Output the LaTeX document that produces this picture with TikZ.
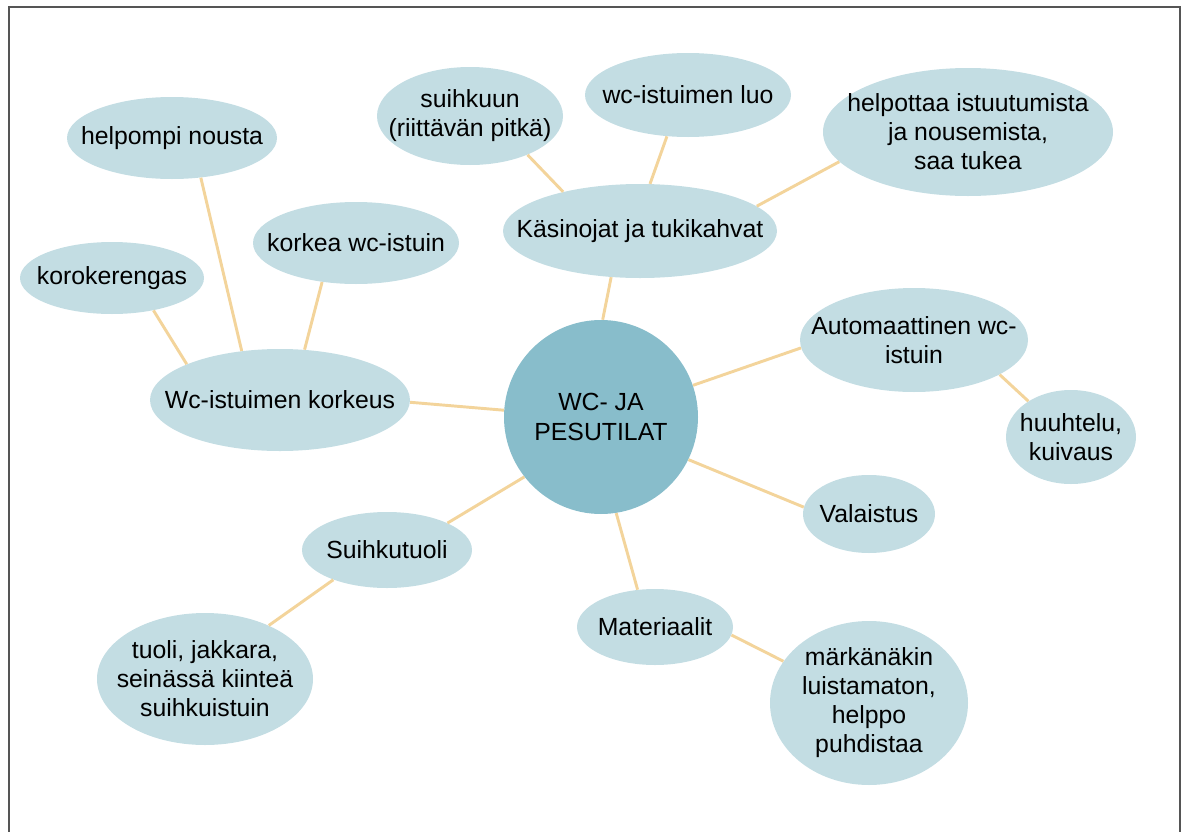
\documentclass[tikz,border=0pt]{standalone}
\usepackage{fontspec}
\setmainfont{Liberation Sans}
\usetikzlibrary{shapes.geometric}
\definecolor{bubblefill}{HTML}{C3DDE3}
\definecolor{hubfill}{HTML}{88BDCB}
\definecolor{linkline}{HTML}{F3D49B}
\definecolor{framegray}{HTML}{555555}
\begin{document}
\begin{tikzpicture}[x = 0.75pt, y = -0.75pt,
		bubble/.style = {ellipse, fill = bubblefill, inner sep = -60pt, align = center,
			font = \fontsize{18.6}{21.75}\selectfont},
		radii/.style 2 args = {minimum width = #1 * 1.5pt, minimum height = #2 * 1.5pt},
		hub/.style = {circle, fill = hubfill, inner sep = 0pt, minimum size = 145.5pt, align = center,
			font = \fontsize{18.6}{22.5}\selectfont},
		link/.style = {draw = linkline, line width = 2.2pt}]
							\useasboundingbox (0, 0) rectangle (1186, 832);
							%Frame
							\draw[framegray, line width = 1.1pt] (9, 840) -- (9, 7) -- (1180, 7) -- (1180, 840);
							%Centre
							\node[hub] (wc) at (601, 417) {WC- JA\\PESUTILAT};
							%Seat height
							\node[bubble, radii = {130}{51}] (korkeus) at (280, 400) {Wc-istuimen korkeus};
								\node[bubble, radii = {105}{41}] (nousta) at (172, 138) {helpompi nousta};
								\node[bubble, radii = {92}{36}] (koroke) at (112, 278) {korokerengas};
								\node[bubble, radii = {103}{41}] (korkea) at (356, 243) {korkea wc-istuin};
							%Grab bars
							\node[bubble, radii = {137}{47}] (kahvat) at (640, 231) {Käsinojat ja tukikahvat};
								\node[bubble, radii = {93}{49}] (suihkuun) at (470, 116) {suihkuun\\(riittävän pitkä)};
								\node[bubble, radii = {103}{42}] (luo) at (688, 95) {wc-istuimen luo};
								\node[bubble, radii = {145}{64}] (tukea) at (968, 132) {helpottaa istuutumista\\ja nousemista,\\saa tukea};
							%Automatic seat
							\node[bubble, radii = {114}{52}] (auto) at (914, 340) {Automaattinen wc-\\istuin};
								\node[bubble, radii = {65}{47}] (huuhtelu) at (1071, 437) {huuhtelu,\\kuivaus};
							%Lighting
							\node[bubble, radii = {66}{39}] (valo) at (869, 514) {Valaistus};
							%Shower chair
							\node[bubble, radii = {85}{38}] (tuoli) at (387, 550) {Suihkutuoli};
								\node[bubble, radii = {108}{66}] (jakkara) at (205, 679) {tuoli, jakkara,\\seinässä kiinteä\\suihkuistuin};
							%Materials
							\node[bubble, radii = {78}{38}] (materiaalit) at (655, 627) {Materiaalit};
								\node[bubble, radii = {99}{82}] (puhdistaa) at (869, 703) {märkänäkin\\luistamaton,\\helppo\\puhdistaa};
							%Connectors
							\foreach \from/\fa/\to/\ta in {nousta/-54/korkeus/128, koroke/-38/korkeus/159,
								korkea/-131/korkeus/64, korkeus/-1/wc/176,
								suihkuun/-34/kahvat/153, luo/-117/kahvat/78, tukea/-167/kahvat/12,
								kahvat/-122/wc/89, wc/19/auto/-176, auto/-22/huuhtelu/140,
								wc/-26/valo/174, wc/-142/tuoli/24, tuoli/-151/jakkara/40,
								wc/-81/materiaalit/115, materiaalit/-6/puhdistaa/154}
								\draw[link] (\from.\fa) -- (\to.\ta);
\end{tikzpicture}
\end{document}
